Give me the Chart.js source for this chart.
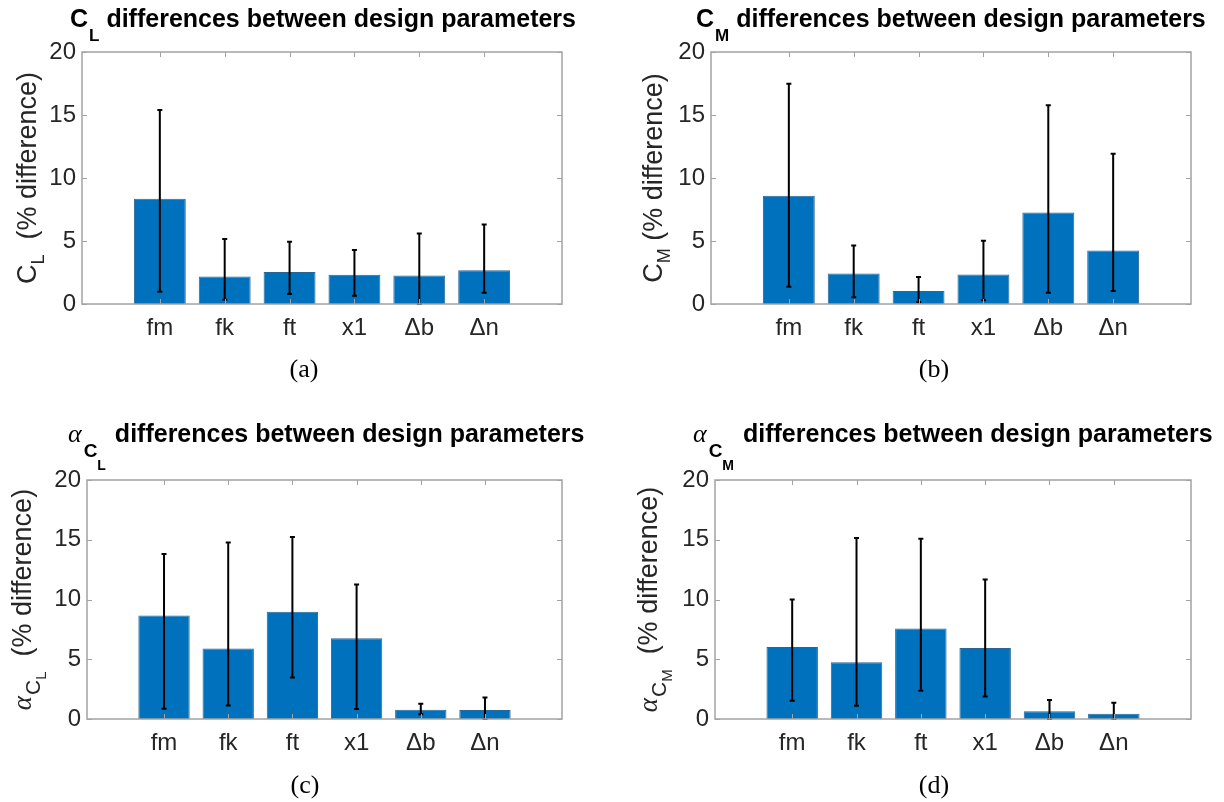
<!DOCTYPE html>
<html>
<head>
<meta charset="utf-8">
<script src="https://cdn.jsdelivr.net/npm/chart.js@4.4.1/dist/chart.umd.min.js"></script>
<style>
  html, body { margin: 0; padding: 0; background: #ffffff; }
  #wrap { position: relative; width: 1224px; height: 802px; overflow: hidden; background: #ffffff; }
  #wrap canvas { position: absolute; }
</style>
</head>
<body>
<div id="wrap">
  <canvas id="panelA" width="612" height="401" style="left:0px;top:0px"></canvas>
  <canvas id="panelB" width="612" height="401" style="left:612px;top:0px"></canvas>
  <canvas id="panelC" width="612" height="401" style="left:0px;top:401px"></canvas>
  <canvas id="panelD" width="612" height="401" style="left:612px;top:401px"></canvas>
</div>
<script>
// Design parameters compared in every panel
const categories = ['fm', 'fk', 'ft', 'x1', 'Δb', 'Δn'];
const yTickValues = [0, 5, 10, 15, 20];

// C_L: mean % difference with lower / upper error-bar ends
const clMean = [8.35, 2.19, 2.54, 2.32, 2.27, 2.67];
const clLow  = [0.98, 0.34, 0.79, 0.66, 0.00, 0.90];
const clHigh = [15.40, 5.15, 4.94, 4.28, 5.60, 6.31];

// C_M
const cmMean = [8.59, 2.43, 1.03, 2.35, 7.27, 4.25];
const cmLow  = [1.37, 0.53, 0.16, 0.29, 0.90, 1.03];
const cmHigh = [17.49, 4.65, 2.14, 5.02, 15.77, 11.92];

// alpha at C_L
const aclMean = [8.67, 5.89, 8.97, 6.75, 0.78, 0.75];
const aclLow  = [0.86, 1.14, 3.47, 0.83, 0.39, 0.00];
const aclHigh = [13.80, 14.78, 15.22, 11.25, 1.28, 1.80];

// alpha at C_M
const acmMean = [6.03, 4.75, 7.58, 5.94, 0.64, 0.44];
const acmLow  = [1.53, 1.11, 2.36, 1.89, 0.00, 0.00];
const acmHigh = [10.00, 15.14, 15.08, 11.67, 1.58, 1.36];

const SANS = '"Liberation Sans", Arial, sans-serif';
const SERIF = '"Liberation Serif", "Times New Roman", serif';
const AXIS_COLOR = '#a3a3a3';
const TEXT_COLOR = '#262626';

// Draw a run of text pieces (main text + subscripts) starting at x, baseline y
function drawRuns(ctx, segs, x, y) {
  let cx = x;
  segs.forEach(s => {
    cx += s.gap || 0;
    ctx.font = s.font;
    ctx.fillText(s.text, cx, y + (s.dy || 0));
    cx += ctx.measureText(s.text).width;
  });
}
function runsWidth(ctx, segs) {
  let w = 0;
  segs.forEach(s => { ctx.font = s.font; w += (s.gap || 0) + ctx.measureText(s.text).width; });
  return w;
}

// Box, inward ticks, error bars, titles, axis labels and captions
const decorPlugin = {
  id: 'decor',
  afterDatasetsDraw(chart) {
    const cfg = chart.options.plugins.decor;
    const ctx = chart.ctx;
    const area = chart.chartArea;
    const xs = chart.scales.x, ys = chart.scales.y;

    // error bars
    const meta = chart.getDatasetMeta(0);
    ctx.save();
    ctx.strokeStyle = '#000000';
    ctx.lineWidth = 2;
    meta.data.forEach((bar, i) => {
      const x = bar.x;
      const yl = ys.getPixelForValue(cfg.err.low[i]);
      const yh = ys.getPixelForValue(cfg.err.high[i]);
      ctx.beginPath();
      ctx.moveTo(x, yl); ctx.lineTo(x, yh);
      ctx.moveTo(x - 2.5, yl); ctx.lineTo(x + 2.5, yl);
      ctx.moveTo(x - 2.5, yh); ctx.lineTo(x + 2.5, yh);
      ctx.stroke();
    });
    ctx.restore();

    // axes box with inward ticks
    ctx.save();
    ctx.strokeStyle = AXIS_COLOR;
    ctx.lineWidth = 1.5;
    ctx.strokeRect(area.left, area.top, area.right - area.left, area.bottom - area.top);
    ctx.lineWidth = 1;
    ctx.beginPath();
    xs.ticks.forEach(t => {
      const px = Math.round(xs.getPixelForValue(t.value)) + 0.5;
      ctx.moveTo(px, area.top); ctx.lineTo(px, area.top + 5);
      ctx.moveTo(px, area.bottom); ctx.lineTo(px, area.bottom - 5);
    });
    ys.ticks.forEach(t => {
      const py = Math.round(ys.getPixelForValue(t.value)) + 0.5;
      ctx.moveTo(area.left, py); ctx.lineTo(area.left + 5, py);
      ctx.moveTo(area.right, py); ctx.lineTo(area.right - 5, py);
    });
    ctx.stroke();
    ctx.restore();
  },
  afterDraw(chart) {
    const cfg = chart.options.plugins.decor;
    const ctx = chart.ctx;
    const area = chart.chartArea;

    // title
    ctx.save();
    ctx.fillStyle = '#000000';
    ctx.textBaseline = 'alphabetic';
    ctx.textAlign = 'left';
    drawRuns(ctx, cfg.title.segs, cfg.title.x, cfg.title.y);
    ctx.restore();

    // rotated y-axis label, centred on the plot area
    ctx.save();
    ctx.fillStyle = TEXT_COLOR;
    ctx.textBaseline = 'alphabetic';
    ctx.textAlign = 'left';
    const cy = (area.top + area.bottom) / 2;
    ctx.translate(cfg.ylabel.x, cy);
    ctx.rotate(-Math.PI / 2);
    const w = runsWidth(ctx, cfg.ylabel.segs);
    drawRuns(ctx, cfg.ylabel.segs, -w / 2, 0);
    ctx.restore();

    // panel caption
    ctx.save();
    ctx.fillStyle = '#000000';
    ctx.font = '26px ' + SERIF;
    ctx.textAlign = 'center';
    ctx.textBaseline = 'middle';
    ctx.fillText(cfg.caption.text, cfg.caption.x, cfg.caption.y);
    ctx.restore();
  }
};

function makePanel(id, mean, low, high, box, decor) {
  decor.err = { low, high };
  return new Chart(document.getElementById(id), {
    type: 'bar',
    data: {
      datasets: [{
        data: mean.map((v, i) => ({ x: i + 1, y: v })),
        backgroundColor: '#0072BD',
        borderColor: '#2b6594',
        borderWidth: 1,
        barPercentage: 0.8,
        categoryPercentage: 1.0
      }]
    },
    options: {
      responsive: false,
      animation: false,
      devicePixelRatio: 1,
      layout: { padding: { left: 0, top: box.top, right: 612 - box.right, bottom: 0 } },
      plugins: {
        legend: { display: false },
        tooltip: { enabled: false },
        title: { display: false },
        decor: decor
      },
      scales: {
        x: {
          type: 'linear',
          offset: false,
          min: -0.2,
          max: 7.2,
          afterBuildTicks: ax => { ax.ticks = categories.map((c, i) => ({ value: i + 1 })); },
          afterFit: ax => { ax.height = 401 - box.bottom; },
          ticks: {
            callback: v => categories[v - 1],
            font: { family: SANS, size: 24 },
            color: TEXT_COLOR,
            padding: 10,
            maxRotation: 0,
            autoSkip: false
          },
          grid: { display: false, drawTicks: false },
          border: { display: false }
        },
        y: {
          min: 0,
          max: 20,
          afterBuildTicks: ax => { ax.ticks = yTickValues.map(v => ({ value: v })); },
          afterFit: ax => { ax.width = box.left; },
          ticks: {
            font: { family: SANS, size: 24 },
            color: TEXT_COLOR,
            padding: 6
          },
          grid: { display: false, drawTicks: false },
          border: { display: false }
        }
      }
    },
    plugins: [decorPlugin]
  });
}

const B25 = 'bold 25px ' + SANS;
const TITLE_TAIL = ' differences between design parameters';

makePanel('panelA', clMean, clLow, clHigh,
  { left: 82, right: 562, top: 52, bottom: 304 },
  {
    title: { x: 70, y: 27, segs: [
      { text: 'C', font: B25 },
      { text: 'L', font: 'bold 17px ' + SANS, dy: 14, gap: 1 },
      { text: TITLE_TAIL, font: B25 }
    ] },
    ylabel: { x: 36, segs: [
      { text: 'C', font: '27px ' + SANS },
      { text: 'L', font: '18px ' + SANS, dy: 8 },
      { text: '  (% difference)', font: '27px ' + SANS }
    ] },
    caption: { text: '(a)', x: 304, y: 370 }
  });

makePanel('panelB', cmMean, cmLow, cmHigh,
  { left: 99, right: 579, top: 52, bottom: 304 },
  {
    title: { x: 84, y: 27, segs: [
      { text: 'C', font: B25 },
      { text: 'M', font: 'bold 17px ' + SANS, dy: 14, gap: 1 },
      { text: TITLE_TAIL, font: B25 }
    ] },
    ylabel: { x: 50, segs: [
      { text: 'C', font: '27px ' + SANS },
      { text: 'M', font: '18px ' + SANS, dy: 8 },
      { text: ' (% difference)', font: '27px ' + SANS }
    ] },
    caption: { text: '(b)', x: 322, y: 370 }
  });

makePanel('panelC', aclMean, aclLow, aclHigh,
  { left: 87, right: 562, top: 79, bottom: 318 },
  {
    title: { x: 68, y: 41, segs: [
      { text: 'α', font: 'italic 26px ' + SERIF },
      { text: 'C', font: 'bold 19px ' + SANS, dy: 15, gap: 2 },
      { text: 'L', font: 'bold 14px ' + SANS, dy: 28 },
      { text: TITLE_TAIL, font: B25, gap: 2 }
    ] },
    ylabel: { x: 31, segs: [
      { text: 'α', font: 'italic 27px ' + SERIF },
      { text: 'C', font: '21px ' + SANS, dy: 9, gap: 1 },
      { text: 'L', font: '15px ' + SANS, dy: 15 },
      { text: '  (% difference)', font: '27px ' + SANS }
    ] },
    caption: { text: '(c)', x: 305, y: 385 }
  });

makePanel('panelD', acmMean, acmLow, acmHigh,
  { left: 103, right: 579, top: 79, bottom: 318 },
  {
    title: { x: 81, y: 41, segs: [
      { text: 'α', font: 'italic 26px ' + SERIF },
      { text: 'C', font: 'bold 19px ' + SANS, dy: 15, gap: 2 },
      { text: 'M', font: 'bold 14px ' + SANS, dy: 28 },
      { text: TITLE_TAIL, font: B25, gap: 2 }
    ] },
    ylabel: { x: 45, segs: [
      { text: 'α', font: 'italic 27px ' + SERIF },
      { text: 'C', font: '21px ' + SANS, dy: 9, gap: 1 },
      { text: 'M', font: '15px ' + SANS, dy: 15 },
      { text: '  (% difference)', font: '27px ' + SANS }
    ] },
    caption: { text: '(d)', x: 322, y: 385 }
  });
</script>
</body>
</html>
